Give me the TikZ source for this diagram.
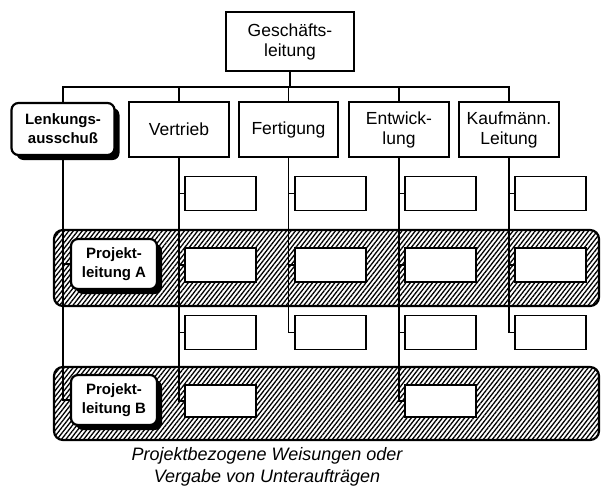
\documentclass[tikz,border=0pt]{standalone}
\usepackage{fontspec}
\setmainfont{Liberation Sans}
\usetikzlibrary{patterns.meta}
\tikzset{
  dept/.style={draw, line width=1.4pt, fill=white, inner sep=0pt, align=center,
    font=\fontsize{17.5}{20}\selectfont},
  small/.style={draw, line width=1.4pt, fill=white, inner sep=0pt,
    minimum width=71pt, minimum height=34pt},
  rbox/.style={draw, line width=2.2pt, fill=white, rounded corners=7pt, inner sep=0pt,
    align=center, font=\fontsize{15}{19}\bfseries\selectfont},
  shadowbox/.style={fill=black, rounded corners=7pt},
  band/.style={draw, line width=2.2pt, rounded corners=9pt,
    pattern={Lines[angle=52,distance=3.5pt,line width=1.3pt]}},
  conn/.style={line width=1.5pt},
}
\begin{document}
\begin{tikzpicture}[x=1pt,y=-1pt]
\useasboundingbox (0,0) rectangle (615,501);
% bands
\path[band] (54,230) rectangle (599,306);
\path[band] (54,367) rectangle (599,440);
% top boxes
\node[dept, minimum width=128pt, minimum height=59pt] (gl) at (290,41.5) {Geschäfts-\\leitung};
% shadows
\fill[shadowbox] (16.5,108) rectangle (119.5,160);
\fill[shadowbox] (76,244) rectangle (162,294);
\fill[shadowbox] (76,380) rectangle (162,430);
\node[rbox, minimum width=103pt, minimum height=52pt] (lk) at (63,129) {Lenkungs-\\ausschuß};
\node[dept, minimum width=100pt, minimum height=55pt] (vt) at (179,129.5) {Vertrieb};
\node[dept, minimum width=99pt, minimum height=55pt] (fe) at (288.5,129.5) {Fertigung};
\node[dept, minimum width=100pt, minimum height=55pt] (en) at (399,129.5) {Entwick-\\lung};
\node[dept, minimum width=100pt, minimum height=55pt] (ka) at (509,129.5) {Kaufmänn.\\Leitung};
\node[rbox, minimum width=86pt, minimum height=50pt] (pa) at (114,264) {Projekt-\\leitung A};
\node[rbox, minimum width=86pt, minimum height=50pt] (pb) at (114,400) {Projekt-\\leitung B};
% small boxes
\foreach \c/\x in {v/220.5,f/330.5,e/440.5,k/550.5}{
  \node[small] (\c1) at (\x,193.5) {};
  \node[small] (\c2) at (\x,265) {};
  \node[small] (\c3) at (\x,332.5) {};
}
\node[small, minimum height=32pt] (v4) at (220.5,401) {};
\node[small, minimum height=32pt] (e4) at (440.5,401) {};
% top connectors
\coordinate (bar) at (290,87);
\draw[conn] (gl.south) -- (bar);
\draw[conn] (lk.north) -- (lk.north |- bar) -- (ka.north |- bar) -- (ka.north);
\draw[conn] (vt.north) -- (vt.north |- bar);
\draw[conn] (fe.north) -- (fe.north |- bar);
\draw[conn] (en.north) -- (en.north |- bar);
% Lenkungsausschuss line
\draw[conn] (lk.south) -- (lk.south |- pb.west) -- (pb.west);
\draw[conn] (lk.south |- pa.west) -- (pa.west);
% Vertrieb
\draw[conn] (vt.south) -- (vt.south |- v4.west) -- (v4.west);
\draw[conn] (vt.south |- v1.west) -- (v1.west);
\draw[conn] (vt.south |- v2.west) -- (v2.west);
\draw[conn] (vt.south |- v3.west) -- (v3.west);
% Fertigung
\draw[conn] (fe.south) -- (fe.south |- f3.west) -- (f3.west);
\draw[conn] (fe.south |- f1.west) -- (f1.west);
\draw[conn] (fe.south |- f2.west) -- (f2.west);
% Entwicklung
\draw[conn] (en.south) -- (en.south |- e4.west) -- (e4.west);
\draw[conn] (en.south |- e1.west) -- (e1.west);
\draw[conn] (en.south |- e2.west) -- (e2.west);
\draw[conn] (en.south |- e3.west) -- (e3.west);
% Kaufmaennisch
\draw[conn] (ka.south) -- (ka.south |- k3.west) -- (k3.west);
\draw[conn] (ka.south |- k1.west) -- (k1.west);
\draw[conn] (ka.south |- k2.west) -- (k2.west);
% caption
\node[align=center, font=\fontsize{18}{22.5}\itshape\selectfont] (cap) at (267,467) {Projektbezogene Weisungen oder\\Vergabe von Unteraufträgen};
\end{tikzpicture}
\end{document}
